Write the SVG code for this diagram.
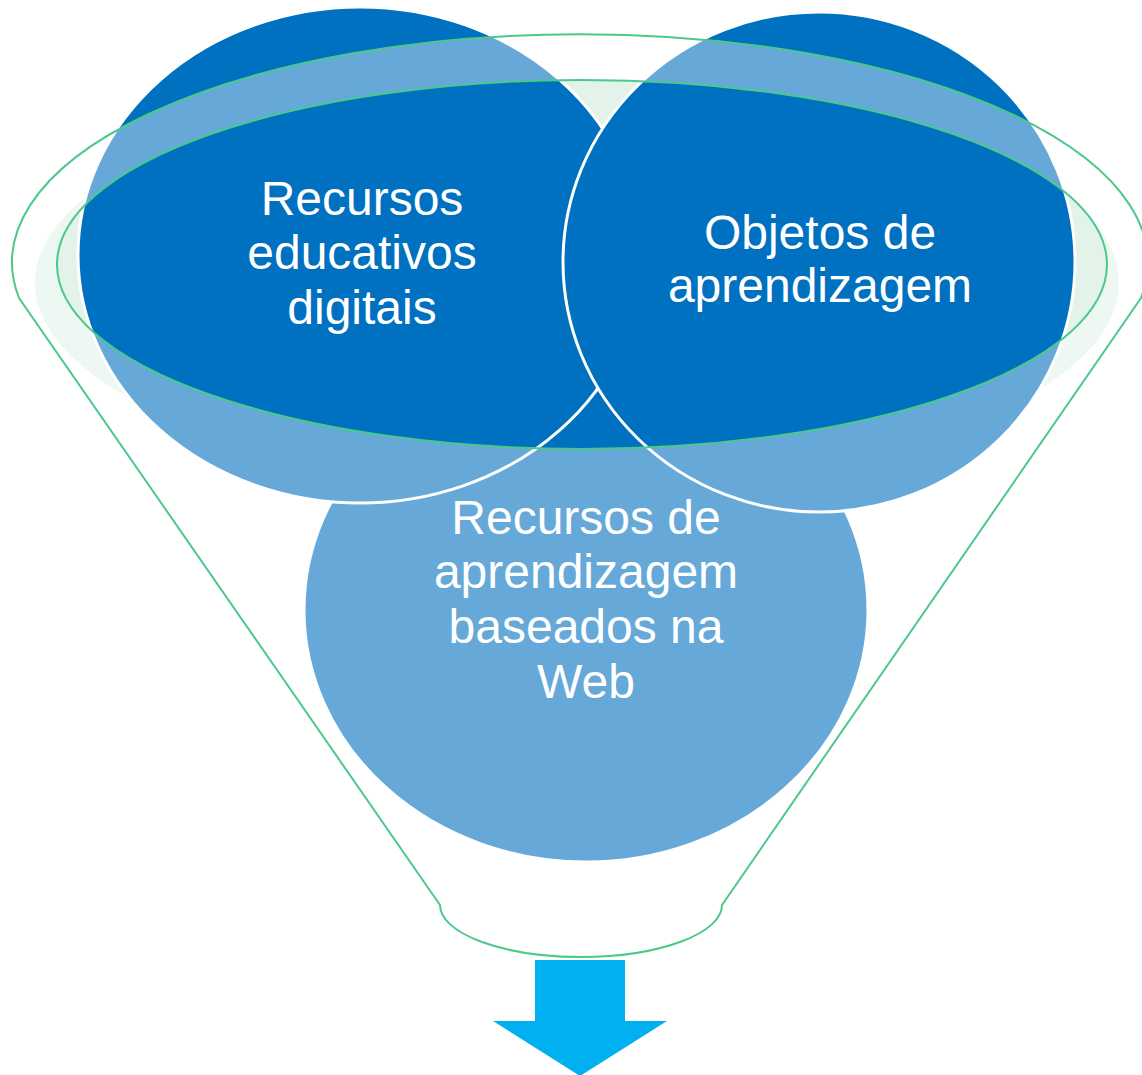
<svg xmlns="http://www.w3.org/2000/svg" width="1142" height="1075" viewBox="0 0 1142 1075">
  <style>
    .circ { fill: #0070C0; stroke: #FFFFFF; stroke-width: 3; }
    .lbl { fill: #FFFFFF; font-family: "Liberation Sans", Arial, sans-serif; font-size: 48px; text-anchor: middle; }
    .rim { fill: none; stroke: #4CC98A; stroke-width: 2; }
  </style>
  <rect x="0" y="0" width="1142" height="1075" fill="#FFFFFF"/>
  <g id="funnel-glow">
    <ellipse cx="577" cy="283" rx="542" ry="204" fill="#E3F3E9"/>
  </g>
  <g id="node-web">
    <ellipse class="circ" cx="586" cy="610" rx="282" ry="252"/>
    <text class="lbl" x="586" y="534">Recursos de</text>
    <text class="lbl" x="586" y="588">aprendizagem</text>
    <text class="lbl" x="586" y="643">baseados na</text>
    <text class="lbl" x="586" y="698">Web</text>
  </g>
  <g id="node-red">
    <ellipse class="circ" cx="360" cy="255" rx="282" ry="248"/>
    <text class="lbl" x="362" y="215">Recursos</text>
    <text class="lbl" x="362" y="269">educativos</text>
    <text class="lbl" x="362" y="324">digitais</text>
  </g>
  <g id="node-oa">
    <ellipse class="circ" cx="819" cy="262" rx="256" ry="250"/>
    <text class="lbl" x="820" y="249">Objetos de</text>
    <text class="lbl" x="820" y="302">aprendizagem</text>
  </g>
  <g id="funnel">
    <path d="M 440 905 L 19 298 A 568 228 0 1 1 1141 298 L 722 905 A 141 52 0 0 1 440 905 Z M 57 264.5 A 525 184.5 0 1 0 1107 264.5 A 525 184.5 0 1 0 57 264.5 Z" fill="#FFFFFF" fill-opacity="0.4" fill-rule="evenodd"/>
    <path class="rim" d="M 440 905 L 19 298 A 568 228 0 1 1 1141 298 L 722 905 A 141 52 0 0 1 440 905 Z"/>
    <ellipse class="rim" cx="582" cy="264.5" rx="525" ry="184.5"/>
  </g>
  <g id="connectors">
    <path d="M 535 960 H 625 V 1021 H 667 L 580 1076 L 493 1021 H 535 Z" fill="#00B0F0"/>
  </g>
</svg>
